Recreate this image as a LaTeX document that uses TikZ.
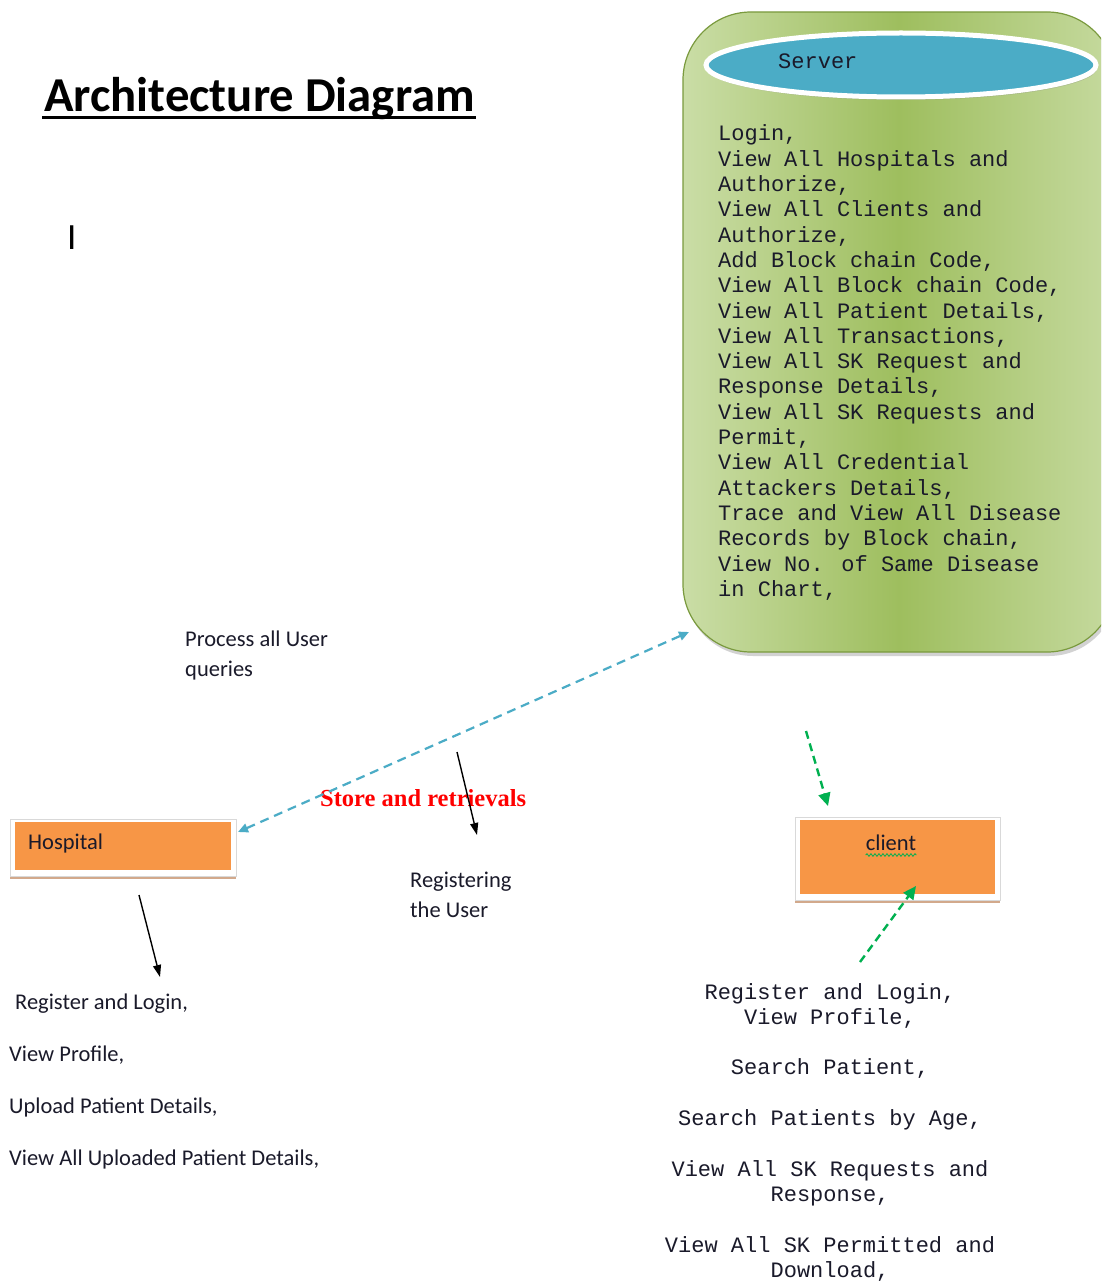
\documentclass[tikz,border=0pt]{standalone}
\usepackage{fontspec}
\setmainfont{Carlito}
\newfontfamily\monof{Liberation Mono}
\newfontfamily\serf{Liberation Serif}
\usetikzlibrary{arrows.meta,decorations.pathmorphing,shadows,shapes.geometric,calc}
\definecolor{orng}{HTML}{F79646}
\definecolor{blu}{HTML}{4BACC6}
\definecolor{grn}{HTML}{00B050}
\definecolor{glight}{HTML}{CADDA6}
\definecolor{gdark}{HTML}{9EBE5E}
\definecolor{gedge}{HTML}{7A9A3E}
\definecolor{shad}{HTML}{D2A98C}
\definecolor{txt}{HTML}{1A1A2A}
\tikzset{
  boxstyle/.style={rectangle, fill=white, draw=black!15, line width=0.8pt, inner sep=0,
    drop shadow={fill=shad, shadow xshift=0pt, shadow yshift=-3pt, opacity=1},
    path picture={\fill[orng] ([shift={(4.5pt,-3pt)}]path picture bounding box.north west)
      rectangle ([shift={(-5.5pt,6pt)}]path picture bounding box.south east);}},
  plaintxt/.style={inner sep=0, text=txt, font=\fontsize{22.5}{30}\selectfont},
  monotxt/.style={inner sep=0, text=txt, font=\monof\fontsize{22}{25.3}\selectfont},
  bluearrow/.style={blu, line width=2.2pt, dash pattern=on 9pt off 6pt,
    {Triangle[length=10pt,width=9pt]}-{Triangle[length=10pt,width=9pt]}},
  greenarrow/.style={grn, line width=2.4pt, dash pattern=on 8pt off 5pt,
    -{Triangle[length=13pt,width=12pt]}},
  blackarrow/.style={black, line width=1.4pt, -{Triangle[length=12pt,width=8pt]}}
}
\begin{document}
\begin{tikzpicture}[x=1pt,y=-1pt]
\useasboundingbox (0,0) rectangle (1101,1281);
\clip (0,0) rectangle (1101,1281);
\fill[white] (0,0) rectangle (1101,1281);

% title
\node[name=title, anchor=base west, inner sep=0, font=\bfseries\fontsize{48.7}{58}\selectfont] at (44,112) {Architecture Diagram};
\draw[line width=3pt] ($(title.base west)+(-2,6)$) -- ($(title.base east)+(1,6)$);
\node[name=cursor, anchor=base west, inner sep=0, font=\fontsize{37}{40}\selectfont] at (67,250) {I};

% server
\node[name=server, rectangle, rounded corners=68pt, minimum width=432pt, minimum height=640pt,
  inner sep=0, draw=gedge, line width=1.2pt, left color=glight, right color=glight!90!gdark, middle color=gdark,
  drop shadow={shadow xshift=2pt, shadow yshift=-4pt, opacity=0.35}] at (899,332) {};
\node[name=srvtop, ellipse, minimum width=390pt, minimum height=64pt, fill=blu, draw=white,
  line width=5pt, inner sep=0, drop shadow={shadow xshift=1pt, shadow yshift=-3pt, opacity=0.3}] at (901,65) {};
\node[name=srvlabel, monotxt, anchor=base west] at (778,69) {Server};
\node[name=srvlist, monotxt, anchor=base west] at (718,141) {\parbox[t]{380pt}{\raggedright
Login,\\
View All Hospitals and\\
Authorize,\\
View All Clients and\\
Authorize,\\
Add Block chain Code,\\
View All Block chain Code,\\
View All Patient Details,\\
View All Transactions,\\
View All SK Request and\\
Response Details,\\
View All SK Requests and\\
Permit,\\
View All Credential\\
Attackers Details,\\
Trace and View All Disease\\
Records by Block chain,\\
View No. of Same Disease\\
in Chart,}};

% hospital
\node[name=hosp, boxstyle, minimum width=226pt, minimum height=57pt] at (123,847.5) {};
\node[name=hosplabel, plaintxt, anchor=base west] at (28,849) {Hospital};

% client
\node[name=client, boxstyle, minimum width=205pt, minimum height=83pt] at (897.5,858.5) {};
\node[name=clientlabel, plaintxt, anchor=base] at (891,850) {client};
\draw[grn, line width=0.8pt, decorate, decoration={snake, amplitude=1.3pt, segment length=4pt}]
  ($(clientlabel.base west)+(0,5)$) -- ($(clientlabel.base east)+(0,5)$);

% labels
\node[name=process, plaintxt, anchor=base west] at (185,646) {\parbox[t]{200pt}{\raggedright Process all User\\ queries}};
\node[name=store, anchor=base west, inner sep=0, text=red, font=\serf\bfseries\fontsize{24.5}{28}\selectfont] at (320,806) {Store and retrievals};
\node[name=registering, plaintxt, anchor=base west] at (410,887) {\parbox[t]{200pt}{\raggedright Registering\\ the User}};

% hospital list
\node[name=hosplist, plaintxt, anchor=base west] at (9,1009) {\parbox[t]{400pt}{\raggedright\baselineskip=52pt
\hspace*{6pt}Register and Login,\\
View Profile,\\
Upload Patient Details,\\
View All Uploaded Patient Details,}};

% client list
\node[name=clientlist, monotxt, anchor=base] at (830,999) {\parbox[t]{440pt}{\centering
Register and Login,\\
View Profile,\\[25.3pt]
Search Patient,\\[25.3pt]
Search Patients by Age,\\[25.3pt]
View All SK Requests and\\
Response,\\[25.3pt]
View All SK Permitted and\\
Download,}};

% connectors
\coordinate (hospNE) at (238,832);
\coordinate (srvSW) at (689,632);
\draw[bluearrow] (hospNE) -- (srvSW);

\coordinate (b1s) at (457,752);
\coordinate (b1e) at (477,835);
\draw[blackarrow] (b1s) -- (b1e);

\coordinate (b2s) at (139,895);
\coordinate (b2e) at (160,977);
\draw[blackarrow] (b2s) -- (b2e);

\coordinate (g1s) at (806,731);
\coordinate (g1e) at (828,806);
\draw[greenarrow] (g1s) -- (g1e);

\coordinate (g2s) at (860,962);
\coordinate (g2e) at (916,886);
\draw[greenarrow] (g2s) -- (g2e);
\end{tikzpicture}
\end{document}
